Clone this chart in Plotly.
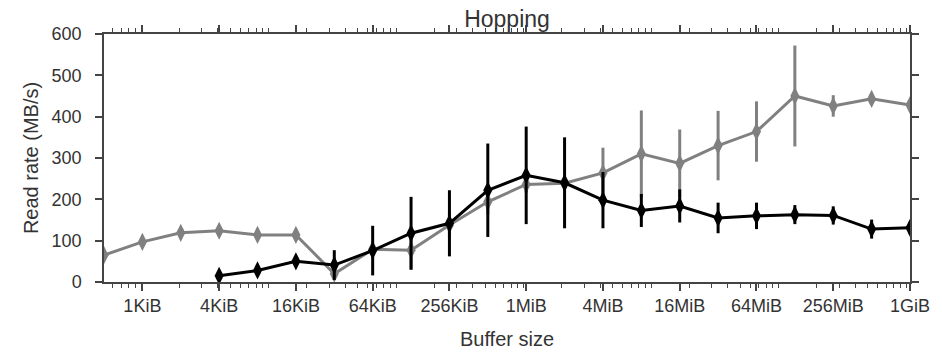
import plotly.graph_objects as go

# Buffer sizes (bytes): 512B .. 1GiB
buffer_sizes = [2 ** k for k in range(9, 31)]

gray_rate = [65, 97, 119, 124, 114, 114, 20, 79, 77, 138, 194, 236, 239, 264,
             310, 287, 330, 364, 450, 426, 443, 428]
gray_err = [6, 8, 8, 8, 8, 8, 12, 10, 48, 30, 30, 20, 15, 61,
            105, 82, 84, 73, 122, 26, 12, 10]

black_sizes = [2 ** k for k in range(12, 31)]
black_rate = [15, 28, 50, 41, 76, 118, 142, 222, 258, 240, 198, 173, 184, 155,
              160, 163, 161, 128, 131]
black_err = [4, 8, 10, 36, 60, 88, 80, 113, 118, 110, 68, 40, 40, 37,
             32, 23, 22, 23, 15]

tick_vals = [2 ** k for k in range(10, 31, 2)]
tick_text = ["1KiB", "4KiB", "16KiB", "64KiB", "256KiB", "1MiB", "4MiB",
             "16MiB", "64MiB", "256MiB", "1GiB"]
minor_vals = [d * 10 ** k for k in range(2, 10) for d in range(1, 10)
              if 512 <= d * 10 ** k <= 2 ** 30]

fig = go.Figure()
fig.add_trace(go.Scatter(
    x=buffer_sizes, y=gray_rate, mode="lines+markers",
    line=dict(color="#808080", width=3),
    marker=dict(symbol="diamond-tall", size=13, color="#808080"),
    error_y=dict(type="data", array=gray_err, color="#808080", thickness=3, width=0),
    showlegend=False,
))
fig.add_trace(go.Scatter(
    x=black_sizes, y=black_rate, mode="lines+markers",
    line=dict(color="#000000", width=3),
    marker=dict(symbol="diamond-tall", size=13, color="#000000"),
    error_y=dict(type="data", array=black_err, color="#000000", thickness=3, width=0),
    showlegend=False,
))

FONT = "Liberation Sans, Arial, sans-serif"
W, H = 934, 345  # page body has an 8px margin
fig.update_layout(
    width=W, height=H,
    margin=dict(l=96, r=32, t=26, b=71),
    paper_bgcolor="white", plot_bgcolor="white",
    title=dict(text="Hopping", x=0.5, xanchor="center", xref="paper",
               y=1 - 11 / H, yref="container", yanchor="middle",
               font=dict(family=FONT, size=23, color="#333333")),
    font=dict(family=FONT, size=18, color="#333333"),
)
fig.update_xaxes(
    type="log", range=[9 * 0.30103, 30 * 0.30103], automargin=False,
    tickmode="array", tickvals=tick_vals, ticktext=tick_text,
    ticks="outside", ticklen=7, tickwidth=1.5, tickcolor="#444444",
    minor=dict(tickmode="array", tickvals=minor_vals, ticks="outside", ticklen=4,
               tickwidth=1, tickcolor="#444444"),
    showline=True, linecolor="#444444", linewidth=1.5, mirror="ticks",
    showgrid=False, zeroline=False,
    title=dict(text="Buffer size", standoff=17, font=dict(size=20)),
    tickfont=dict(size=18),
)
fig.update_yaxes(
    range=[0, 600], tickmode="array", tickvals=[0, 100, 200, 300, 400, 500, 600],
    automargin=False,
    ticks="outside", ticklen=7, tickwidth=1.5, tickcolor="#444444",
    showline=True, linecolor="#444444", linewidth=1.5, mirror="ticks",
    showgrid=False, zeroline=False, ticklabelstandoff=10,
    title=dict(text="Read rate (MB/s)", standoff=8, font=dict(size=20)),
    tickfont=dict(size=18),
)

fig.write_html("out.html")
